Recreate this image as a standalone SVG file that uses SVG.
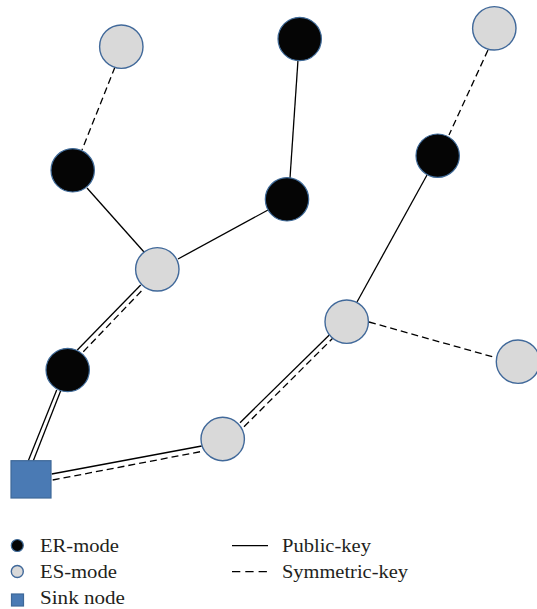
<svg xmlns="http://www.w3.org/2000/svg" width="537" height="609" viewBox="0 0 537 609">
<style>
.er{fill:#050505;stroke:#3F6A98;stroke-width:1.2}
.es{fill:#D9D9D9;stroke:#41699A;stroke-width:1.4}
.sink{fill:#4A7AB4;stroke:#3E6898;stroke-width:1.2}
.pk{stroke:#000;stroke-width:1.3;fill:none}
.sk{stroke:#000;stroke-width:1.3;fill:none;stroke-dasharray:7,4}
.lbl{font-family:"Liberation Serif","Times New Roman",serif;font-size:18px;fill:#231F20}
</style>
<rect width="537" height="609" fill="#fff"/>
<g id="connectors">
<line class="sk" x1="115" y1="67" x2="82" y2="150"/>
<line class="pk" x1="298" y1="60" x2="290" y2="178"/>
<line class="sk" x1="488" y1="50" x2="449" y2="135"/>
<line class="pk" x1="87" y1="188" x2="144" y2="252"/>
<line class="pk" x1="268" y1="210" x2="178" y2="259"/>
<line class="pk" x1="77.3" y1="350" x2="140.7" y2="285"/>
<line class="sk" x1="83.3" y1="351.7" x2="144" y2="288.3"/>
<line class="pk" x1="56.7" y1="390" x2="28.3" y2="460.7"/>
<line class="pk" x1="60.7" y1="390.7" x2="33.3" y2="460.7"/>
<line class="pk" x1="51.7" y1="474" x2="201.7" y2="446"/>
<line class="sk" x1="52.7" y1="480" x2="204" y2="451"/>
<line class="pk" x1="240" y1="422.7" x2="329.3" y2="335"/>
<line class="sk" x1="244" y1="426.7" x2="332.7" y2="338.3"/>
<line class="pk" x1="357" y1="302" x2="427" y2="175"/>
<line class="sk" x1="369" y1="322" x2="497" y2="358"/>
</g>
<g id="nodeA"><circle class="es" cx="121.3" cy="46.7" r="21.7"/></g>
<g id="nodeB"><circle class="er" cx="299.7" cy="39" r="21.7"/></g>
<g id="nodeC"><circle class="es" cx="494.3" cy="28.3" r="21.7"/></g>
<g id="nodeD"><circle class="er" cx="72.7" cy="170.3" r="21.7"/></g>
<g id="nodeE"><circle class="er" cx="287" cy="199.3" r="21.7"/></g>
<g id="nodeF"><circle class="er" cx="437.7" cy="155.7" r="21.7"/></g>
<g id="nodeG"><circle class="es" cx="157.3" cy="269.3" r="21.7"/></g>
<g id="nodeH"><circle class="er" cx="67.7" cy="370" r="21.7"/></g>
<g id="nodeI"><circle class="es" cx="222.7" cy="439" r="21.7"/></g>
<g id="nodeJ"><circle class="es" cx="346.7" cy="321.7" r="21.7"/></g>
<g id="nodeK"><circle class="es" cx="518" cy="361.7" r="21.7"/></g>
<g id="sink"><rect class="sink" x="11" y="460.7" width="40" height="37.3"/></g>
<g id="legend">
<circle class="er" cx="17.3" cy="545.5" r="6"/>
<text class="lbl" x="40" y="552" textLength="79" lengthAdjust="spacingAndGlyphs">ER-mode</text>
<circle class="es" cx="17.3" cy="571.5" r="6"/>
<text class="lbl" x="40" y="578" textLength="77" lengthAdjust="spacingAndGlyphs">ES-mode</text>
<rect class="sink" x="11.5" y="594" width="12" height="12"/>
<text class="lbl" x="40" y="604" textLength="85" lengthAdjust="spacingAndGlyphs">Sink node</text>
<line class="pk" x1="232" y1="545.7" x2="268" y2="545.7"/>
<text class="lbl" x="282" y="552" textLength="89" lengthAdjust="spacingAndGlyphs">Public-key</text>
<line class="pk" x1="232" y1="571.7" x2="268" y2="571.7" stroke-dasharray="8.3,5"/>
<text class="lbl" x="282" y="578" textLength="126" lengthAdjust="spacingAndGlyphs">Symmetric-key</text>
</g>
</svg>
